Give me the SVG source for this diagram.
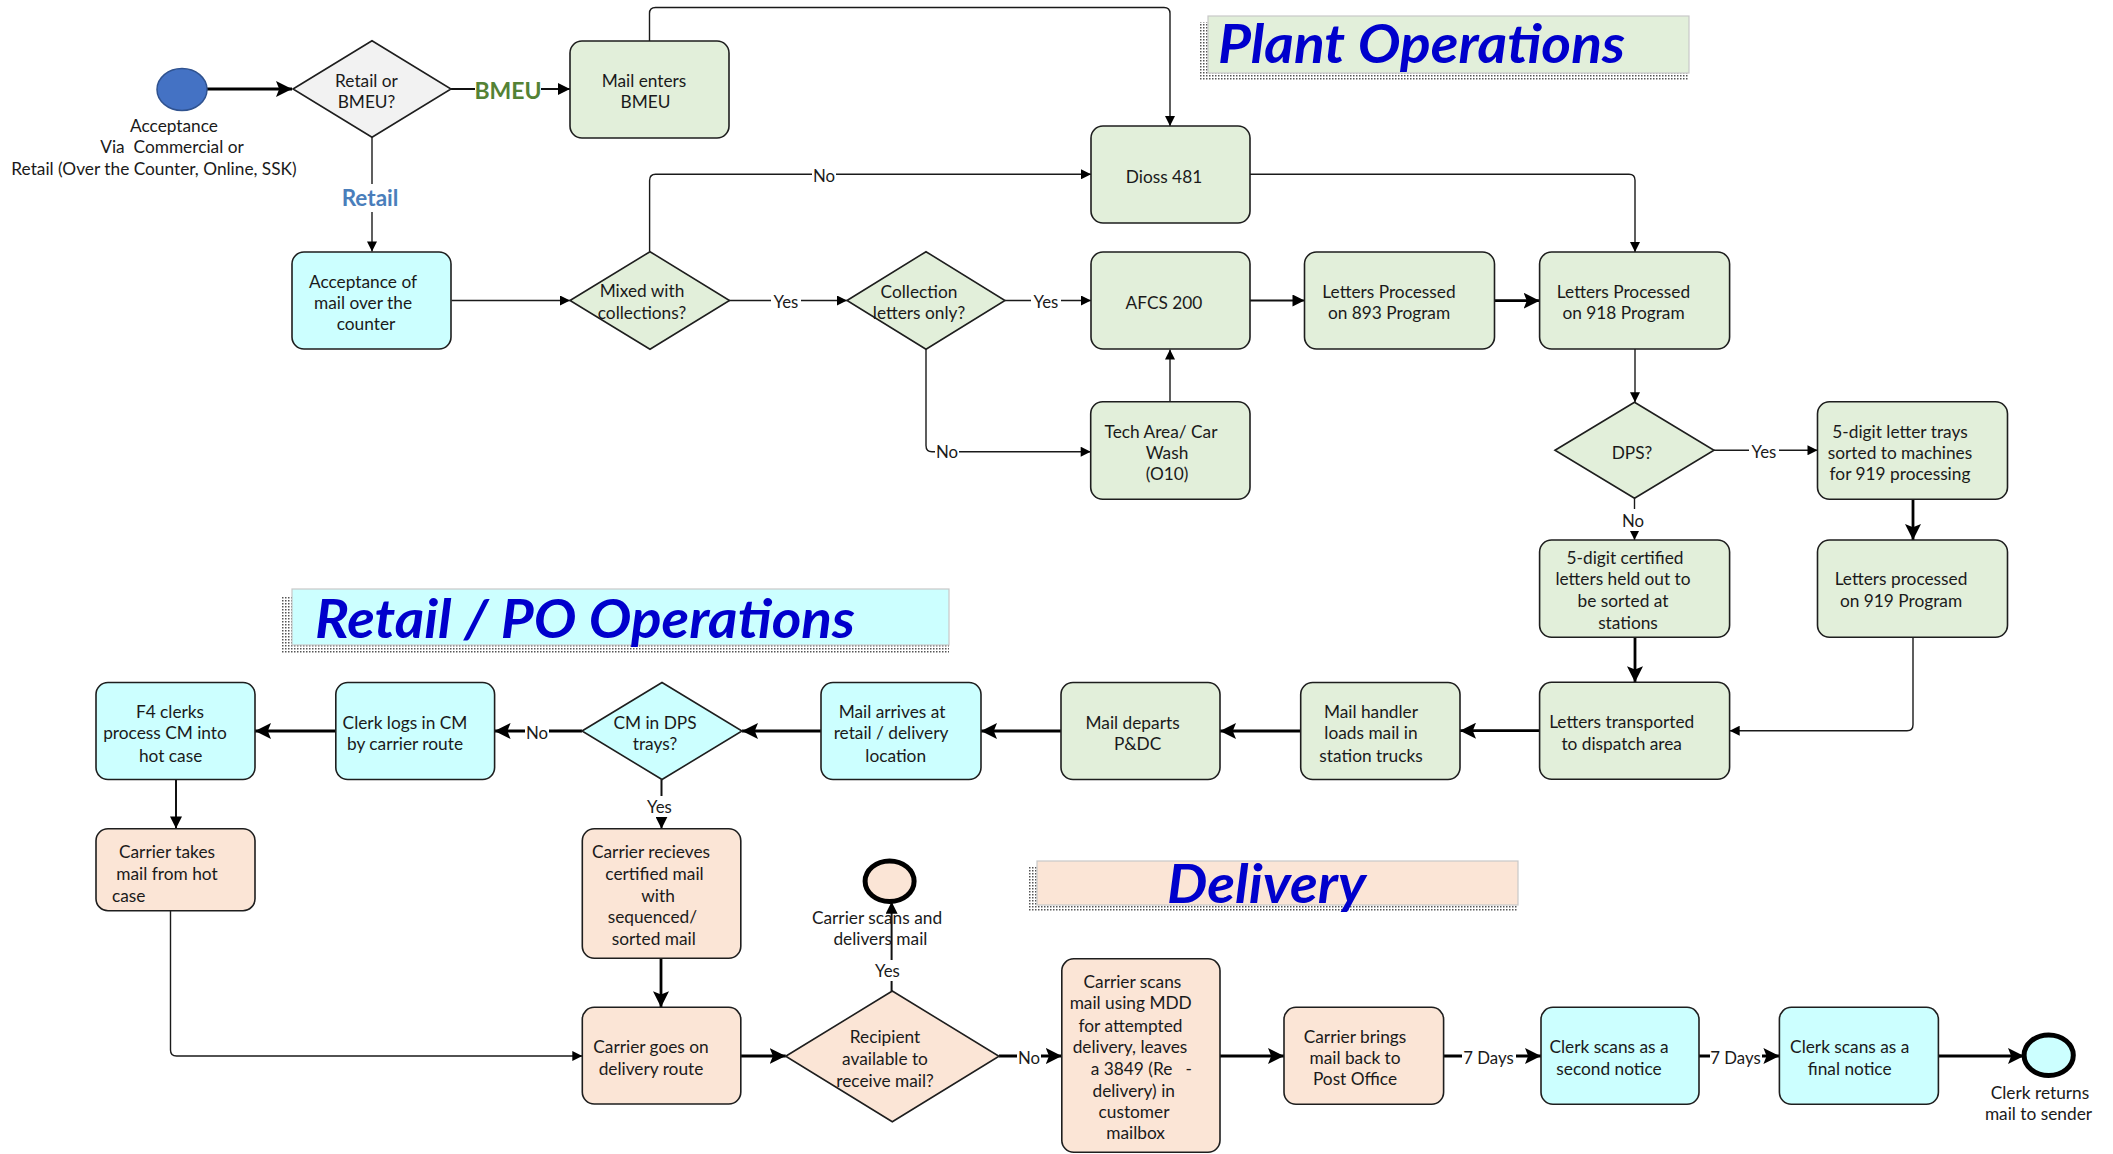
<svg xmlns="http://www.w3.org/2000/svg" width="2113" height="1154" viewBox="0 0 2113 1154">
<defs>
<style>
.bx{stroke:#1e1e1e;stroke-width:1.6}
.g{fill:#E2EFDA}.c{fill:#CCFFFF}.p{fill:#FBE5D6}.gr{fill:#F2F2F2}
.t{font-family:Lato,"Liberation Sans",sans-serif;font-size:17.3px;fill:#1a1a1a;text-anchor:middle}
.s{text-anchor:start}
.lb{font-family:Lato,"Liberation Sans",sans-serif;font-size:16.8px;fill:#1a1a1a;text-anchor:middle}
.wb{fill:#fff}
.thin{stroke:#1a1a1a;stroke-width:1.4;fill:none;marker-end:url(#as)}
.med{stroke:#111;stroke-width:2;fill:none;marker-end:url(#am)}
.thk{stroke:#000;stroke-width:2.8;fill:none;marker-end:url(#al)}
.ttl{font-family:Lato,"Open Sans",sans-serif;font-weight:bold;font-style:italic;font-size:54px;fill:#0000CC}
.tb{stroke:#C8C8C8;stroke-width:1.2}
</style>
<marker id="as" viewBox="0 0 10 10" refX="10" refY="5" markerWidth="11" markerHeight="10" orient="auto" markerUnits="userSpaceOnUse"><path d="M0,0 L10,5 L0,10 z" fill="#000"/></marker>
<marker id="am" viewBox="0 0 10 10" refX="10" refY="5" markerWidth="13" markerHeight="12" orient="auto" markerUnits="userSpaceOnUse"><path d="M0,0 L10,5 L0,10 z" fill="#000"/></marker>
<marker id="al" viewBox="0 0 10 10" refX="10" refY="5" markerWidth="16" markerHeight="16" orient="auto" markerUnits="userSpaceOnUse"><path d="M0,0 L10,5 L0,10 L2,5 z" fill="#000"/></marker>
<pattern id="dots" width="3" height="3" patternUnits="userSpaceOnUse"><rect width="1.5" height="1.5" fill="#555"/></pattern>
</defs>
<rect width="2113" height="1154" fill="#fff"/>

<g id="title-plant">
<rect x="1199" y="22" width="490" height="58" fill="url(#dots)"/>
<rect class="tb" x="1208" y="16" width="481" height="57" fill="#E2EFDA"/>
<text class="ttl" x="1218" y="63" textLength="407" lengthAdjust="spacingAndGlyphs">Plant Operations</text>
</g>
<g id="title-retail">
<rect x="281" y="596" width="668" height="58" fill="url(#dots)"/>
<rect class="tb" x="292" y="589" width="657" height="56" fill="#CCFFFF"/>
<text class="ttl" x="315" y="638" textLength="540" lengthAdjust="spacingAndGlyphs">Retail / PO Operations</text>
</g>
<g id="title-delivery">
<rect x="1029" y="867" width="489" height="45" fill="url(#dots)"/>
<rect class="tb" x="1037" y="861" width="481" height="44" fill="#FBE5D6"/>
<text class="ttl" x="1167" y="903" textLength="199" lengthAdjust="spacingAndGlyphs">Delivery</text>
</g>

<g id="connectors">
<path class="thk" d="M207,89 H292"/>
<path class="med" d="M451,89 H570"/>
<rect class="wb" x="475" y="76" width="66" height="28"/>
<text x="508" y="99" font-family="Lato,'Liberation Sans',sans-serif" font-size="23" font-weight="bold" fill="#548235" text-anchor="middle">BMEU</text>
<path class="thin" d="M372,137 V251.5"/>
<rect class="wb" x="339" y="184" width="62" height="28"/>
<text x="370" y="206" font-family="Lato,'Liberation Sans',sans-serif" font-size="22.5" font-weight="bold" fill="#4A7EBB" text-anchor="middle">Retail</text>
<path class="thin" d="M649.5,41 V13.5 Q649.5,7.5 655.5,7.5 H1164 Q1170,7.5 1170,13.5 V126"/>
<path class="thin" d="M451.5,300.5 H570"/>
<path class="thin" d="M649.6,251.7 V180.5 Q649.6,174.3 655.6,174.3 H1091"/>
<rect class="wb" x="812" y="164" width="24" height="22"/>
<text class="lb" x="824" y="182">No</text>
<path class="thin" d="M729,300.5 H847"/>
<rect class="wb" x="771" y="290" width="30" height="22"/>
<text class="lb" x="786" y="308">Yes</text>
<path class="thin" d="M1005,300.5 H1091"/>
<rect class="wb" x="1031" y="290" width="30" height="22"/>
<text class="lb" x="1046" y="308">Yes</text>
<path class="med" d="M1250,300.5 H1304.5"/>
<path class="thin" d="M926,349 V445.5 Q926,451.7 932,451.7 H1090.7"/>
<rect class="wb" x="935" y="441" width="24" height="22"/>
<text class="lb" x="947" y="458">No</text>
<path class="thin" d="M1170,401.7 V349.5"/>
<path class="thin" d="M1250,174.3 H1629 Q1635,174.3 1635,180.3 V252"/>
<path class="thk" d="M1494.5,300.7 H1539.6"/>
<path class="thin" d="M1635,349 V402.3"/>
<path class="thin" d="M1714,450.3 H1817.5"/>
<rect class="wb" x="1749" y="440" width="30" height="22"/>
<text class="lb" x="1764" y="458">Yes</text>
<path class="thin" d="M1634.5,498.3 V540"/>
<rect class="wb" x="1621" y="509" width="24" height="22"/>
<text class="lb" x="1633" y="527">No</text>
<path class="thk" d="M1913,499.3 V540"/>
<path class="thk" d="M1635,637.3 V682.3"/>
<path class="thin" d="M1913,637.3 V724.7 Q1913,730.7 1907,730.7 H1729.7"/>
<path class="thk" d="M1539.6,730.7 H1460"/>
<path class="thk" d="M1300.7,731 H1220"/>
<path class="thk" d="M1061,731 H981"/>
<path class="thk" d="M821,731 H742"/>
<path class="thk" d="M582,731 H494.6"/>
<rect class="wb" x="525" y="721" width="24" height="22"/>
<text class="lb" x="537" y="739">No</text>
<path class="thk" d="M335.8,731 H255"/>
<path class="med" d="M176,780 V828.5"/>
<path class="thin" d="M170.5,910.7 V1050 Q170.5,1056 176.5,1056 H582.3"/>
<path class="med" d="M661.5,779.3 V828.7"/>
<rect class="wb" x="645" y="796" width="30" height="21"/>
<text class="lb" x="659.5" y="812.5">Yes</text>
<path class="thk" d="M661,958.3 V1007.3"/>
<path class="thk" d="M741,1056 H785.7"/>
<path class="med" d="M891.6,991 V901.7"/>
<rect class="wb" x="873" y="960" width="30" height="21"/>
<text class="lb" x="887.5" y="976.5">Yes</text>
<path class="thk" d="M999,1056 H1061.8"/>
<rect class="wb" x="1017" y="1047" width="24" height="22"/>
<text class="lb" x="1029" y="1064">No</text>
<path class="thk" d="M1220,1056 H1284"/>
<path class="thk" d="M1443.6,1056 H1541"/>
<rect class="wb" x="1462" y="1046" width="54" height="22"/>
<text class="lb" x="1488.5" y="1064">7 Days</text>
<path class="thk" d="M1699,1056 H1779.4"/>
<rect class="wb" x="1710" y="1046" width="52" height="22"/>
<text class="lb" x="1735.5" y="1064">7 Days</text>
<path class="thk" d="M1938.4,1056 H2024"/>
</g>

<g id="start">
<ellipse cx="182" cy="89.5" rx="25" ry="21" fill="#4472C4" stroke="#2F528F" stroke-width="1.5"/>
<text class="t" xml:space="preserve"><tspan x="174" y="132">Acceptance</tspan><tspan x="172" y="153">Via  Commercial or</tspan><tspan x="154" y="175">Retail (Over the Counter, Online, SSK)</tspan></text>
</g>
<g id="d-retail-bmeu">
<path class="bx gr" d="M293,89 L372,40.7 L451,89 L372,137.3 z"/>
<text class="t"><tspan x="366.5" y="86.7">Retail or</tspan><tspan x="366.5" y="108.3">BMEU?</tspan></text>
</g>
<g id="n-mail-enters-bmeu">
<rect class="bx g" x="570" y="41" width="159" height="97" rx="12"/>
<text class="t"><tspan x="644" y="86.7">Mail enters</tspan><tspan x="645.5" y="108.3">BMEU</tspan></text>
</g>
<g id="n-dioss">
<rect class="bx g" x="1091" y="126" width="159" height="97" rx="12"/>
<text class="t" x="1164" y="182.7">Dioss 481</text>
</g>
<g id="n-acceptance-counter">
<rect class="bx c" x="292" y="252" width="159" height="97" rx="12"/>
<text class="t"><tspan x="363" y="287.7">Acceptance of</tspan><tspan x="363" y="308.7">mail over the</tspan><tspan x="366" y="330.3">counter</tspan></text>
</g>
<g id="d-mixed">
<path class="bx g" d="M570,300.5 L650,251.7 L729.5,300.5 L650,349.3 z"/>
<text class="t"><tspan x="642" y="297">Mixed with</tspan><tspan x="642" y="319.3">collections?</tspan></text>
</g>
<g id="d-collection">
<path class="bx g" d="M847,300.5 L926,251.7 L1005,300.5 L926,349.3 z"/>
<text class="t"><tspan x="919" y="297.7">Collection</tspan><tspan x="919" y="319.3">letters only?</tspan></text>
</g>
<g id="n-afcs">
<rect class="bx g" x="1091" y="252" width="159" height="97" rx="12"/>
<text class="t" x="1164" y="308.7">AFCS 200</text>
</g>
<g id="n-893">
<rect class="bx g" x="1304.5" y="252" width="190" height="97" rx="12"/>
<text class="t"><tspan x="1389" y="297.7">Letters Processed</tspan><tspan x="1389" y="319.3">on 893 Program</tspan></text>
</g>
<g id="n-918">
<rect class="bx g" x="1539.6" y="252" width="190" height="97" rx="12"/>
<text class="t"><tspan x="1623.5" y="297.7">Letters Processed</tspan><tspan x="1623.5" y="319.3">on 918 Program</tspan></text>
</g>
<g id="n-tech">
<rect class="bx g" x="1090.7" y="401.7" width="159.3" height="97.6" rx="12"/>
<text class="t"><tspan x="1161" y="437.7">Tech Area/ Car</tspan><tspan x="1167" y="458.7">Wash</tspan><tspan x="1167" y="480.3">(O10)</tspan></text>
</g>
<g id="d-dps">
<path class="bx g" d="M1555,450.3 L1634.5,402.3 L1714,450.3 L1634.5,498.3 z"/>
<text class="t" x="1632" y="458.7">DPS?</text>
</g>
<g id="n-trays">
<rect class="bx g" x="1817.5" y="401.7" width="190" height="97.6" rx="12"/>
<text class="t"><tspan x="1900" y="437.7">5-digit letter trays</tspan><tspan x="1900" y="458.7">sorted to machines</tspan><tspan x="1900" y="480.3">for 919 processing</tspan></text>
</g>
<g id="n-certified">
<rect class="bx g" x="1539.6" y="540" width="190" height="97.3" rx="12"/>
<text class="t"><tspan x="1625" y="564.3">5-digit certified</tspan><tspan x="1623" y="585.3">letters held out to</tspan><tspan x="1623" y="607">be sorted at</tspan><tspan x="1628" y="629.3">stations</tspan></text>
</g>
<g id="n-919">
<rect class="bx g" x="1817.5" y="540" width="190" height="97.3" rx="12"/>
<text class="t"><tspan x="1901" y="585.3">Letters processed</tspan><tspan x="1901" y="607">on 919 Program</tspan></text>
</g>
<g id="n-transported">
<rect class="bx g" x="1539.6" y="682.3" width="190" height="97" rx="12"/>
<text class="t"><tspan x="1621.7" y="728.3">Letters transported</tspan><tspan x="1621.7" y="750.3">to dispatch area</tspan></text>
</g>
<g id="n-handler">
<rect class="bx g" x="1300.7" y="682.5" width="159.3" height="97" rx="12"/>
<text class="t"><tspan x="1371" y="717.7">Mail handler</tspan><tspan x="1371" y="739.3">loads mail in</tspan><tspan x="1371" y="761.7">station trucks</tspan></text>
</g>
<g id="n-departs">
<rect class="bx g" x="1061" y="682.5" width="159" height="97" rx="12"/>
<text class="t"><tspan x="1132.6" y="728.7">Mail departs</tspan><tspan x="1137.6" y="750.3">P&amp;DC</tspan></text>
</g>
<g id="n-arrives">
<rect class="bx c" x="821" y="682.5" width="160" height="97" rx="12"/>
<text class="t"><tspan x="892" y="717.7">Mail arrives at</tspan><tspan x="891" y="739.3">retail / delivery</tspan><tspan x="895.7" y="761.7">location</tspan></text>
</g>
<g id="d-cm">
<path class="bx c" d="M582,731 L662,682.5 L742,731 L662,779.5 z"/>
<text class="t"><tspan x="655" y="728.7">CM in DPS</tspan><tspan x="655" y="750.3">trays?</tspan></text>
</g>
<g id="n-clerk-logs">
<rect class="bx c" x="335.8" y="682.5" width="158.8" height="97" rx="12"/>
<text class="t"><tspan x="405" y="728.7">Clerk logs in CM</tspan><tspan x="405" y="750.3">by carrier route</tspan></text>
</g>
<g id="n-f4">
<rect class="bx c" x="96" y="682.5" width="159" height="97" rx="12"/>
<text class="t"><tspan x="170" y="717.7">F4 clerks</tspan><tspan x="165" y="739.3">process CM into</tspan><tspan x="170.6" y="761.7">hot case</tspan></text>
</g>
<g id="n-takes">
<rect class="bx p" x="96" y="828.7" width="159" height="82" rx="12"/>
<text class="t"><tspan x="167" y="858.3">Carrier takes</tspan><tspan x="167" y="880.3">mail from hot</tspan><tspan class="s" x="112" y="901.7">case</tspan></text>
</g>
<g id="n-recieves">
<rect class="bx p" x="582.3" y="828.7" width="158.5" height="129.6" rx="12"/>
<text class="t"><tspan x="651" y="858.3">Carrier recieves</tspan><tspan x="654.5" y="880.3">certified mail</tspan><tspan x="658" y="901.7">with</tspan><tspan x="652.4" y="923.3">sequenced/</tspan><tspan x="653.8" y="945.3">sorted mail</tspan></text>
</g>
<g id="n-goes">
<rect class="bx p" x="582.3" y="1007.3" width="158.5" height="96.7" rx="12"/>
<text class="t"><tspan x="651" y="1052.7">Carrier goes on</tspan><tspan x="651" y="1074.7">delivery route</tspan></text>
</g>
<g id="d-recipient">
<path class="bx p" d="M785.7,1056.3 L892.3,991 L999,1056.3 L892.3,1121.7 z"/>
<text class="t"><tspan x="885" y="1042.7">Recipient</tspan><tspan x="885" y="1064.7">available to</tspan><tspan x="885" y="1086.7">receive mail?</tspan></text>
</g>
<g id="e-delivered">
<ellipse cx="889.6" cy="881.3" rx="24.5" ry="20.3" fill="#FBE5D6" stroke="#000" stroke-width="5"/>
<text class="t"><tspan x="877" y="924.3">Carrier scans and</tspan><tspan x="880.4" y="945.3">delivers mail</tspan></text>
</g>
<g id="n-carrier-scans">
<rect class="bx p" x="1061.8" y="958.8" width="158.2" height="193.5" rx="12"/>
<text class="t" xml:space="preserve"><tspan x="1132.4" y="988.3">Carrier scans</tspan><tspan x="1130.7" y="1009.3">mail using MDD</tspan><tspan x="1130.5" y="1031.7">for attempted</tspan><tspan x="1130" y="1052.7">delivery, leaves</tspan><tspan x="1141.4" y="1074.7">a 3849 (Re   -</tspan><tspan x="1133.7" y="1097">delivery) in</tspan><tspan x="1134" y="1118.3">customer</tspan><tspan x="1135.6" y="1139.3">mailbox</tspan></text>
</g>
<g id="n-brings">
<rect class="bx p" x="1284" y="1007.3" width="159.6" height="97" rx="12"/>
<text class="t"><tspan x="1355" y="1042.7">Carrier brings</tspan><tspan x="1355" y="1064.3">mail back to</tspan><tspan x="1355" y="1085.3">Post Office</tspan></text>
</g>
<g id="n-second">
<rect class="bx c" x="1541" y="1007.3" width="158" height="97" rx="12"/>
<text class="t"><tspan x="1609" y="1052.7">Clerk scans as a</tspan><tspan x="1609" y="1074.7">second notice</tspan></text>
</g>
<g id="n-final">
<rect class="bx c" x="1779.4" y="1007.3" width="159" height="97" rx="12"/>
<text class="t"><tspan x="1849.7" y="1052.7">Clerk scans as a</tspan><tspan x="1849.7" y="1074.7">final notice</tspan></text>
</g>
<g id="e-return">
<ellipse cx="2048.7" cy="1055.3" rx="24.6" ry="20.3" fill="#CCFFFF" stroke="#000" stroke-width="5"/>
<text class="t"><tspan x="2040" y="1099.3">Clerk returns</tspan><tspan x="2038.5" y="1120.3">mail to sender</tspan></text>
</g>
</svg>
